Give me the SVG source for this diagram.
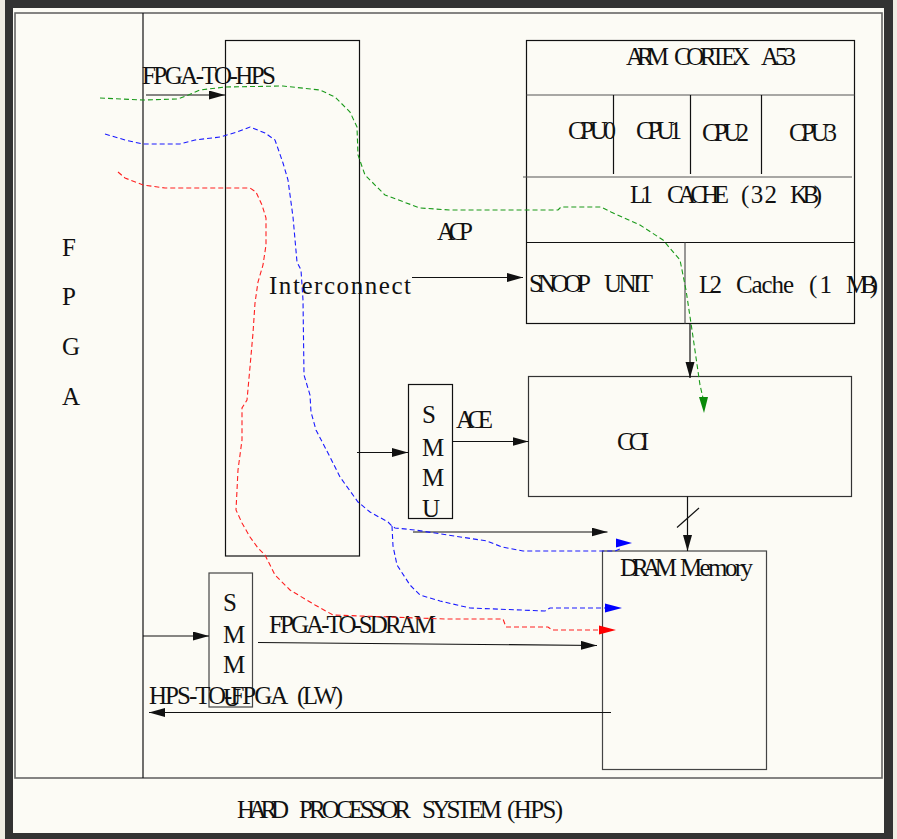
<svg xmlns="http://www.w3.org/2000/svg" width="897" height="839" viewBox="0 0 897 839">
<defs>
<style>
.t{font-family:"Liberation Serif","Times New Roman",serif;font-size:25px;fill:#111}
.box{fill:none;stroke:#111;stroke-width:1.2}
.gl{fill:none;stroke:#555;stroke-width:1.2}
.ln{fill:none;stroke:#111;stroke-width:1.2}
.dg{fill:none;stroke:#1a9a1a;stroke-width:1.1;stroke-dasharray:5 3}
.db{fill:none;stroke:#1a1aff;stroke-width:1.1;stroke-dasharray:5 3}
.dr{fill:none;stroke:#ff2020;stroke-width:1.1;stroke-dasharray:5 3}
</style>
<marker id="ah" markerUnits="userSpaceOnUse" markerWidth="17" markerHeight="10" refX="16" refY="4.5" orient="auto">
<path d="M0,0 L16,4.5 L0,9 z" fill="#111"/>
</marker>
</defs>
<rect x="0" y="0" width="897" height="839" fill="#efece3"/>
<rect x="5" y="0" width="888" height="839" fill="#333"/>
<rect x="13" y="8" width="871" height="825" fill="#fcfbf5"/>
<rect x="15" y="13" width="867" height="765" fill="none" stroke="#666" stroke-width="1.6"/>

<g id="fpga">
<line x1="143" y1="13" x2="143" y2="778" class="ln"/>
<text class="t" x="62" y="256">F</text>
<text class="t" x="62" y="305">P</text>
<text class="t" x="62" y="355">G</text>
<text class="t" x="62" y="405">A</text>
</g>

<g id="hps-label">
<text class="t" y="818"><tspan x="237" textLength="52">HARD</tspan> <tspan x="299" textLength="112">PROCESSOR</tspan> <tspan x="422" textLength="80">SYSTEM</tspan> <tspan x="507" textLength="56">(HPS)</tspan></text>
</g>

<g id="interconnect">
<rect x="225.5" y="40.5" width="134" height="515.5" class="box"/>
<text class="t" x="269" y="294" textLength="142">Interconnect</text>
</g>

<g id="arm">
<rect x="526.5" y="40.5" width="328" height="283" class="box"/>
<line x1="526.5" y1="95" x2="854.5" y2="95" class="gl"/>
<line x1="523" y1="177" x2="852" y2="177" class="gl"/>
<line x1="526.5" y1="242.5" x2="854.5" y2="242.5" class="box"/>
<line x1="613.5" y1="95" x2="613.5" y2="174" class="box"/>
<line x1="690.5" y1="95" x2="690.5" y2="174" class="box"/>
<line x1="761.5" y1="95" x2="761.5" y2="174" class="box"/>
<line x1="685" y1="242.5" x2="685" y2="323.5" class="gl"/>
<text class="t" y="65"><tspan x="626" textLength="43">ARM</tspan> <tspan x="674" textLength="76">CORTEX</tspan> <tspan x="761" textLength="35">A53</tspan></text>
<text class="t" x="568" y="139" textLength="48">CPU0</text>
<text class="t" x="636" y="139" textLength="46">CPU1</text>
<text class="t" x="702" y="141" textLength="47">CPU2</text>
<text class="t" x="789" y="141" textLength="48">CPU3</text>
<text class="t" y="203"><tspan x="630" textLength="23">L1</tspan> <tspan x="667" textLength="62">CACHE</tspan> <tspan x="741" textLength="36">(32</tspan> <tspan x="790" textLength="32">KB)</tspan></text>
<text class="t" y="292"><tspan x="529" textLength="61">SNOOP</tspan> <tspan x="604" textLength="49">UNIT</tspan></text>
<text class="t" y="293"><tspan x="699" textLength="23">L2</tspan> <tspan x="736" textLength="58">Cache</tspan> <tspan x="809" textLength="23">(1</tspan> <tspan x="846" textLength="32">MB)</tspan></text>
</g>

<g id="smmu-top">
<rect x="408.5" y="384.5" width="44" height="134" class="box"/>
<text class="t" x="422" y="423">S</text>
<text class="t" x="422" y="456">M</text>
<text class="t" x="422" y="486">M</text>
<text class="t" x="422" y="517">U</text>
</g>

<g id="cci">
<rect x="528.5" y="376.5" width="323" height="120" class="gl" style="stroke:#333"/>
<text class="t" x="617" y="450" textLength="32">CCI</text>
</g>

<g id="dram">
<rect x="602.5" y="551" width="164" height="218.5" class="gl" style="stroke:#444"/>
<text class="t" y="576"><tspan x="620" textLength="57">DRAM</tspan> <tspan x="680" textLength="73">Memory</tspan></text>
</g>

<g id="smmu-bottom">
<rect x="209" y="573" width="43.5" height="134" class="gl" style="stroke:#444"/>
<text class="t" x="223" y="611">S</text>
<text class="t" x="223" y="643">M</text>
<text class="t" x="223" y="673">M</text>
<text class="t" x="223" y="706">U</text>
</g>

<g id="connectors">
<line x1="146" y1="95" x2="225" y2="95" class="ln" marker-end="url(#ah)"/>
<text class="t" x="142" y="84" textLength="134">FPGA-TO-HPS</text>
<line x1="412" y1="277.5" x2="523" y2="277.5" class="ln" marker-end="url(#ah)"/>
<text class="t" x="437" y="240" textLength="36">ACP</text>
<line x1="690" y1="324" x2="690" y2="378" class="ln" marker-end="url(#ah)"/>
<line x1="357" y1="452.5" x2="408" y2="452.5" class="ln" marker-end="url(#ah)"/>
<line x1="452.5" y1="441.5" x2="528.5" y2="441.5" class="ln" marker-end="url(#ah)"/>
<text class="t" x="456" y="428" textLength="37">ACE</text>
<line x1="687.5" y1="496.5" x2="687.5" y2="551" class="ln" marker-end="url(#ah)"/>
<line x1="677" y1="527.5" x2="699" y2="508" class="ln"/>
<line x1="413" y1="532" x2="607.5" y2="532" class="ln" marker-end="url(#ah)"/>
<line x1="258" y1="642.5" x2="597" y2="645.5" class="ln" marker-end="url(#ah)"/>
<text class="t" x="269" y="633" textLength="167">FPGA-TO-SDRAM</text>
<line x1="143" y1="636" x2="209" y2="636" class="ln" marker-end="url(#ah)"/>
<line x1="611" y1="712.5" x2="149" y2="712.5" class="ln" marker-end="url(#ah)"/>
<text class="t" y="704"><tspan x="149" textLength="138">HPS-TO-FPGA</tspan> <tspan x="297" textLength="46">(LW)</tspan></text>

<path class="dg" d="M100,98 L143,100 L178,99 L186,96 L200,90 L225,87 L283,86 L320,90 L335,97 L350,112 L357,127 L358,155 L365,175 L385,195 L420,208 L450,210 L558,210 L561,207 L601,207 L611,212 L640,225 L663,240 L680,260 L686,290 L692,330 L700,385 L703,398"/>
<polygon points="699,397 708,397 704,413" fill="#0a8a0a"/>

<path class="db" d="M105,134 L125,140 L143,144 L180,144 L195,140 L220,137 L237,132 L250,127 L265,133 L275,140 L283,163 L288,180 L293,217 L297,262 L301,270 L303,300 L304,375 L310,395 L311,412 L316,430 L330,457 L340,477 L358,502 L370,512 L388,522 L392,526 L395,528 L415,530 L487,541 L502,547 L523,551 L615,551 L622,548"/>
<polygon points="616,538.5 632,543 616,547.5" fill="#0000ff"/>
<path class="db" d="M392,526 L393,546 L397,565 L410,585 L420,595 L440,601 L470,608 L545,611 L550,608 L605,608"/>
<polygon points="605,603.5 622,608 605,612.5" fill="#0000ff"/>

<path class="dr" d="M118,172 L125,178 L143,185 L165,188 L250,188 L256,192 L262,205 L266,218 L266,245 L263,265 L258,282 L255,303 L253,333 L250,367 L247,400 L242,408 L242,440 L238,470 L236,510 L242,523 L250,537 L258,548 L265,555 L275,575 L290,590 L315,605 L333,615 L445,619 L503,619 L506,627 L548,627 L552,630 L600,630"/>
<polygon points="599,625.5 616,630 599,634.5" fill="#ff0000"/>
</g>
</svg>
